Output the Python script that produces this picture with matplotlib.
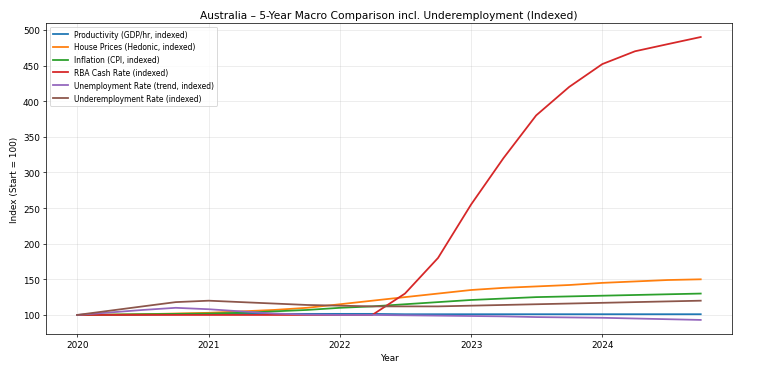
import matplotlib
matplotlib.use("Agg")
import matplotlib.pyplot as plt
import matplotlib.dates as mdates
import pandas as pd

# quarterly observations, 2020 Q1 .. 2024 Q4, all indexed to 100 at start
dates = pd.date_range("2020-01-01", "2024-10-01", freq="QS")

productivity = [100, 100, 100.5, 101, 101.5, 101.5, 101.5, 101.5, 101.5, 101.5,
                101, 101, 101, 101, 101, 101, 101, 101, 101, 101]
house_prices = [100, 100.5, 101, 102, 103, 105, 107, 110, 115, 120,
                125, 130, 135, 138, 140, 142, 145, 147, 149, 150]
inflation = [100, 100.5, 101, 101.5, 102, 103, 105, 107, 110, 112,
             115, 118, 121, 123, 125, 126, 127, 128, 129, 130]
cash_rate = [100, 100, 100, 100, 100, 100, 100, 100, 100, 100,
             130, 180, 255, 320, 380, 420, 452, 470, 480, 490]
unemployment = [100, 103.5, 107, 110, 108, 105, 102, 100.5, 100, 100,
                99.5, 99, 98.5, 98, 97, 96.5, 96, 95, 94, 93]
underemployment = [100, 106, 112, 118, 120, 118, 116, 114, 113, 112,
                   112, 112, 113, 114, 115, 116, 117, 118, 119, 120]

labels = ["Productivity (GDP/hr, indexed)",
          "House Prices (Hedonic, indexed)",
          "Inflation (CPI, indexed)",
          "RBA Cash Rate (indexed)",
          "Unemployment Rate (trend, indexed)",
          "Underemployment Rate (indexed)"]
series = [productivity, house_prices, inflation, cash_rate, unemployment, underemployment]

fig, ax = plt.subplots(figsize=(12, 5.734), dpi=64)
for vals, lab in zip(series, labels):
    ax.plot(dates, vals, linewidth=2, label=lab)

ax.set_title("Australia – 5-Year Macro Comparison incl. Underemployment (Indexed)")
ax.set_xlabel("Year")
ax.set_ylabel("Index (Start = 100)")
ax.xaxis.set_major_locator(mdates.YearLocator())
ax.xaxis.set_major_formatter(mdates.DateFormatter("%Y"))
ax.grid(True, alpha=0.3)
ax.legend(loc="upper left", fontsize=8.5)

plt.subplots_adjust(left=0.06, right=0.953, top=0.935, bottom=0.087)
plt.savefig("out.png")
